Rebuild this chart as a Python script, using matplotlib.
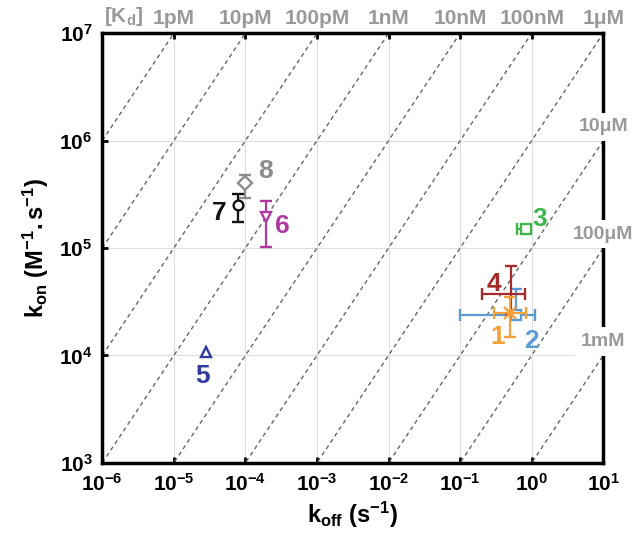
import matplotlib
matplotlib.use("Agg")
import matplotlib.pyplot as plt
import numpy as np
from matplotlib.ticker import FixedLocator, FuncFormatter

fam = 'Liberation Sans'
plt.rcParams['font.family'] = [fam, 'DejaVu Sans']
plt.rcParams['mathtext.fontset'] = 'custom'
plt.rcParams['mathtext.rm'] = fam
plt.rcParams['mathtext.bf'] = fam + ':bold'
plt.rcParams['mathtext.it'] = fam + ':italic'

# data points: koff (s^-1), kon (M^-1 s^-1), errors
labels = ['1', '2', '3', '4', '5', '6', '7', '8']
koff = [0.5, 0.6, 0.83, 0.51, 2.8e-5, 1.95e-4, 7.8e-5, 1.0e-4]
kon = [2.5e4, 2.4e4, 1.5e5, 3.7e4, 1.07e4, 1.95e5, 2.5e5, 4.0e5]
koff_lo = [0.3, 0.1, 0.63, 0.2, None, None, None, None]
koff_hi = [0.83, 1.12, 0.83, 0.81, None, None, None, None]
kon_lo = [1.5e4, 2.4e4, 1.5e5, 2.4e4, None, 1.03e5, 1.75e5, 2.95e5]
kon_hi = [3.5e4, 4.2e4, 1.5e5, 6.8e4, None, 2.75e5, 3.2e5, 4.8e5]
colors = ['#F5A03A', '#5B9BD5', '#3DB54A', '#A52A2A', '#2E3A9E', '#B0399E', '#111111', '#8C8C8C']
markers = ['x', 's', 's', '', '^', 'v', 'o', 'D']
label_pos = [(0.33, 1.5e4), (1.0, 1.35e4), (1.3, 1.85e5), (0.3, 4.6e4),
             (2.5e-5, 6.5e3), (3.3e-4, 1.6e5), (4.3e-5, 2.1e5), (1.9e-4, 5.2e5)]

kd_values = [1e-12, 1e-11, 1e-10, 1e-9, 1e-8, 1e-7, 1e-6, 1e-5, 1e-4, 1e-3]
kd_top = ['1pM', '10pM', '100pM', '1nM', '10nM', '100nM', '1\u03bcM']
kd_right = ['10\u03bcM', '100\u03bcM', '1mM']

fig = plt.figure(figsize=(6.35, 5.37), dpi=100)
ax = fig.add_axes([0.161, 0.138, 0.789, 0.8])
ax.set_xscale('log')
ax.set_yscale('log')
ax.set_xlim(1e-6, 1e1)
ax.set_ylim(1e3, 1e7)

xs = np.array([1e-6, 1e1])
for kd in kd_values:
    ax.plot(xs, xs / kd, ls=(0, (3, 2.5)), color='#666666', lw=1.0, zorder=1)

ax.grid(True, which='major', color='#dddddd', lw=0.8, zorder=0)
ax.set_axisbelow(True)

for i in range(len(labels)):
    xe = None
    ye = None
    if koff_lo[i] is not None:
        xe = [[koff[i] - koff_lo[i]], [koff_hi[i] - koff[i]]]
    if kon_lo[i] is not None:
        ye = [[kon[i] - kon_lo[i]], [kon_hi[i] - kon[i]]]
    ax.errorbar(koff[i], kon[i], xerr=xe, yerr=ye, fmt=markers[i] if markers[i] else 'none',
                color=colors[i], mfc='white', mec=colors[i], mew=1.7, ms=8 if markers[i] == 'x' else 7,
                elinewidth=1.6, capsize=4, capthick=1.6, zorder=3.5 if i == 0 else 3)
    ax.text(label_pos[i][0], label_pos[i][1], labels[i], color=colors[i], fontsize=19,
            fontweight='bold', ha='center', va='center', zorder=4)

ax.xaxis.set_major_locator(FixedLocator([10.0 ** e for e in range(-6, 2)]))
ax.yaxis.set_major_locator(FixedLocator([10.0 ** e for e in range(3, 8)]))
ax.xaxis.set_minor_locator(FixedLocator([]))
ax.yaxis.set_minor_locator(FixedLocator([]))
fmt = FuncFormatter(lambda v, p: r'$\mathbf{10^{%d}}$' % int(round(np.log10(v))))
ax.xaxis.set_major_formatter(fmt)
ax.yaxis.set_major_formatter(fmt)
ax.tick_params(which='major', direction='in', length=4, width=2, labelsize=15,
               top=True, right=False, pad=7)

for s in ['left', 'bottom', 'top', 'right']:
    ax.spines[s].set_linewidth(2.5)
    ax.spines[s].set_color('black')

ax.set_xlabel(r'$\mathbf{k_{off}}$ $\mathbf{(s^{-1})}$', fontsize=17, labelpad=4)
ax.set_ylabel(r'$\mathbf{k_{on}}$ $\mathbf{(M^{-1}.s^{-1})}$', fontsize=17, labelpad=6)

# Kd labels on top
ax.text(2.0e-6, 1.12e7, r'[K$_\mathbf{d}$]', color='#999999', fontsize=15,
        fontweight='bold', ha='center', va='bottom', clip_on=False)
for j, lab in enumerate(kd_top):
    ax.text(10.0 ** (-5 + j), 1.12e7, lab, color='#999999', fontsize=15,
            fontweight='bold', ha='center', va='bottom', clip_on=False)
# Kd labels on right, covering the spine
for j, lab in enumerate(kd_right):
    ax.text(1e1, 10.0 ** (6 - j) * 1.35, lab, color='#999999', fontsize=14,
            fontweight='bold', ha='center', va='center', clip_on=False, zorder=5,
            bbox=dict(facecolor='white', edgecolor='none', pad=4))

fig.savefig('out.png', dpi=100)
